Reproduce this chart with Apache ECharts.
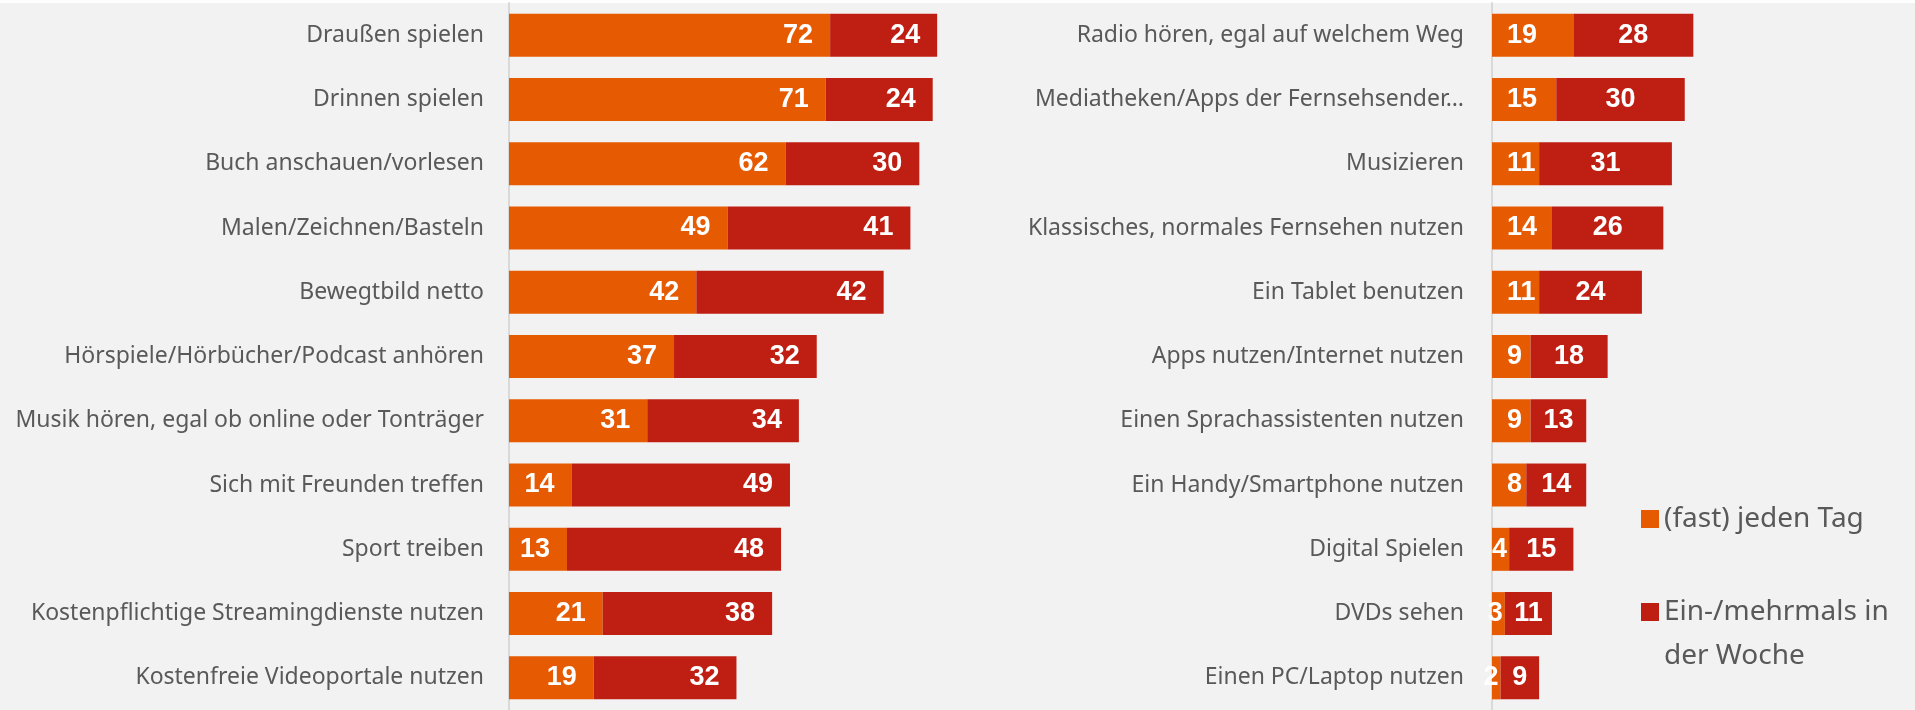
<!DOCTYPE html>
<html>
<head>
<meta charset="utf-8">
<script src="https://cdn.jsdelivr.net/npm/echarts@6/dist/echarts.min.js"></script>
<style>
  html, body { margin: 0; padding: 0; background: #f2f2f2; }
  #main { width: 1915px; height: 710px; }
</style>
</head>
<body>
<div id="main"></div>
<script>
// linke Seite
var leftCats = ['Draußen spielen', 'Drinnen spielen', 'Buch anschauen/vorlesen', 'Malen/Zeichnen/Basteln',
	'Bewegtbild netto', 'Hörspiele/Hörbücher/Podcast anhören', 'Musik hören, egal ob online oder Tonträger',
	'Sich mit Freunden treffen', 'Sport treiben', 'Kostenpflichtige Streamingdienste nutzen', 'Kostenfreie Videoportale nutzen'];
var leftDaily = [72, 71, 62, 49, 42, 37, 31, 14, 13, 21, 19];
var leftWeekly = [24, 24, 30, 41, 42, 32, 34, 49, 48, 38, 32];

// rechte Seite
var rightCats = ['Radio hören, egal auf welchem Weg', 'Mediatheken/Apps der Fernsehsender…', 'Musizieren',
	'Klassisches, normales Fernsehen nutzen', 'Ein Tablet benutzen', 'Apps nutzen/Internet nutzen',
	'Einen Sprachassistenten nutzen', 'Ein Handy/Smartphone nutzen', 'Digital Spielen', 'DVDs sehen', 'Einen PC/Laptop nutzen'];
var rightDaily = [19, 15, 11, 14, 11, 9, 9, 8, 4, 3, 2];
var rightWeekly = [28, 30, 31, 26, 24, 18, 13, 14, 15, 11, 9];

var seriesNames = ['(fast) jeden Tag', 'Ein-/mehrmals in der Woche'];

var orange = '#e65a02';
var red = '#bf1f12';
var labelFont = 'Noto Sans';

var valueLabel = {
	show: true,
	color: '#fff',
	fontFamily: 'Liberation Sans',
	fontWeight: 'bold',
	fontSize: 27
};

var rightMax = 60, rightWidth = 257;
var pxRight = rightWidth / rightMax;

// kleine Balken: Zahl rutscht nach links ueber die Achse
var rightDailyData = rightDaily.map(function (v) {
	var seg = v * pxRight, lw = String(v).length * 15;
	if (seg >= 15 + lw + 2) return { value: v };
	return { value: v, label: { position: 'insideRight', distance: 2 } };
});

var catAxis = function (cats, idx, margin) {
	return {
		type: 'category',
		gridIndex: idx,
		data: cats,
		inverse: true,
		axisTick: { show: false },
		axisLine: { show: true, lineStyle: { color: '#d9d9d9', width: 2 } },
		axisLabel: { color: '#595959', fontSize: 23, fontFamily: labelFont, margin: margin }
	};
};

var legendText = { color: '#595959', fontSize: 28, fontFamily: labelFont };

var option = {
	backgroundColor: '#f2f2f2',
	animation: false,
	graphic: [{
		type: 'rect',
		left: 0, top: 0,
		shape: { width: 1915, height: 3 },
		style: { fill: '#ffffff' }
	}, {
		// zweite Zeile der Legende
		type: 'text',
		left: 1664, top: 642,
		style: { text: 'der Woche', fill: '#595959', fontSize: 28, fontFamily: labelFont }
	}],
	legend: [{
		data: [seriesNames[0]],
		orient: 'vertical',
		left: 1641, top: 505, padding: 0,
		icon: 'rect', itemWidth: 18, itemHeight: 18,
		selectedMode: false,
		textStyle: legendText
	}, {
		data: [seriesNames[1]],
		orient: 'vertical',
		left: 1641, top: 598, padding: 0,
		icon: 'rect', itemWidth: 18, itemHeight: 18,
		selectedMode: false,
		formatter: function () { return 'Ein-/mehrmals in'; },
		textStyle: legendText
	}],
	grid: [
		{ left: 509, top: 3, width: 446, height: 713 },
		{ left: 1492, top: 3, width: rightWidth, height: 713 }
	],
	xAxis: [
		{ type: 'value', gridIndex: 0, min: 0, max: 100, show: false, splitLine: { show: false } },
		{ type: 'value', gridIndex: 1, min: 0, max: rightMax, show: false, splitLine: { show: false } }
	],
	yAxis: [catAxis(leftCats, 0, 25), catAxis(rightCats, 1, 28)],
	series: [
		{
			name: seriesNames[0], type: 'bar', stack: 'l', xAxisIndex: 0, yAxisIndex: 0,
			barWidth: 43, itemStyle: { color: orange },
			label: Object.assign({ position: 'insideRight', distance: 17 }, valueLabel),
			data: leftDaily
		},
		{
			name: seriesNames[1], type: 'bar', stack: 'l', xAxisIndex: 0, yAxisIndex: 0,
			barWidth: 43, itemStyle: { color: red },
			label: Object.assign({ position: 'insideRight', distance: 17 }, valueLabel),
			data: leftWeekly
		},
		{
			name: seriesNames[0], type: 'bar', stack: 'r', xAxisIndex: 1, yAxisIndex: 1,
			barWidth: 43, itemStyle: { color: orange },
			label: Object.assign({ position: 'insideLeft', distance: 15 }, valueLabel),
			data: rightDailyData
		},
		{
			name: seriesNames[1], type: 'bar', stack: 'r', xAxisIndex: 1, yAxisIndex: 1,
			barWidth: 43, itemStyle: { color: red },
			label: Object.assign({ position: 'inside' }, valueLabel),
			data: rightWeekly
		}
	]
};

var myChart = echarts.init(document.getElementById('main'));
myChart.setOption(option);
</script>
</body>
</html>
